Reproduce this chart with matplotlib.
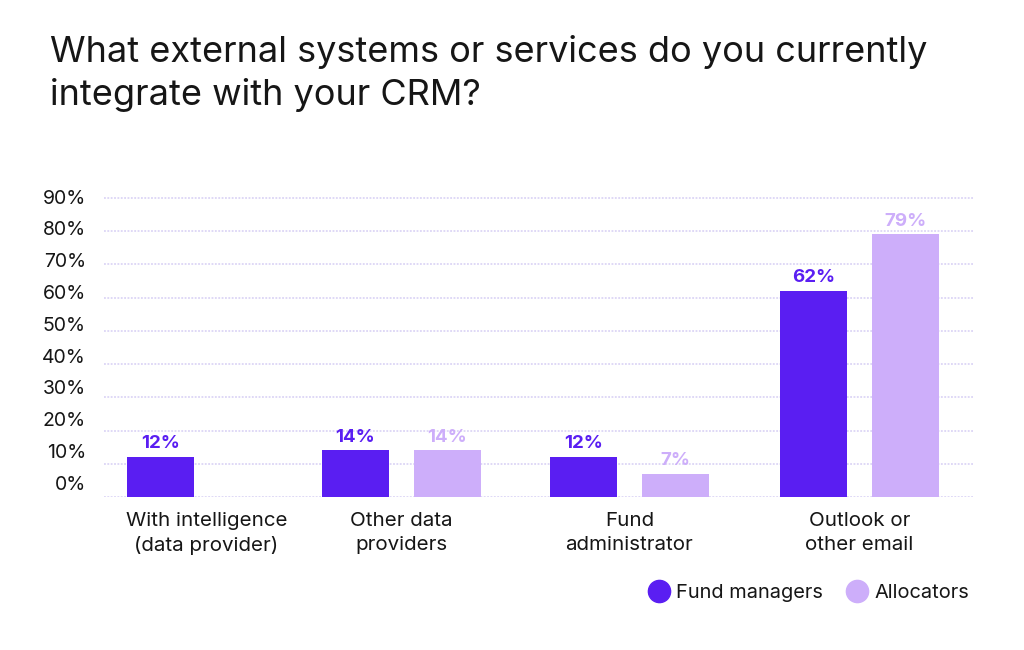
import matplotlib
matplotlib.use("Agg")
import matplotlib.pyplot as plt
from matplotlib.lines import Line2D
import numpy as np

# ---- data ----
categories = ["With intelligence\n(data provider)", "Other data\nproviders",
              "Fund\nadministrator", "Outlook or\nother email"]
series_names = ["Fund managers", "Allocators"]
fund_managers = [12, 14, 12, 62]
allocators = [None, 14, 7, 79]
y_ticks = [0, 10, 20, 30, 40, 50, 60, 70, 80, 90]
y_labels = ["0%", "10%", "20%", "30%", "40%", "50%", "60%", "70%", "80%", "90%"]
title = "What external systems or services do you currently\nintegrate with your CRM?"

# ---- style / layout ----
c_fm = "#5a1ef2"
c_al = "#cdaefa"
c_grid = "#d6cef4"
c_text = "#161616"
FONT = ["Inter", "DejaVu Sans"]
plt.rcParams["font.family"] = FONT

W, H, DPI = 1024, 650, 100
fig = plt.figure(figsize=(W / DPI, H / DPI), dpi=DPI)
ax_l, ax_r, ax_t, ax_b = 104, 973, 196.7, 497
ax = fig.add_axes([ax_l / W, 1 - ax_b / H, (ax_r - ax_l) / W, (ax_b - ax_t) / H])

# group centres in pixel units relative to axes left
group_x = np.array([102.5, 297, 525.5, 755.5])
bar_w = 67
off = 46

ax.set_xlim(0, ax_r - ax_l)
ax.set_ylim(0, 90)

for v in y_ticks:
    ax.axhline(v, color=c_grid, lw=1.1, ls=(0, (1.2, 1.0)), zorder=0)

fm_vals = np.array(fund_managers, dtype=float)
al_vals = np.array([np.nan if v is None else v for v in allocators], dtype=float)

ax.bar(group_x - off, fm_vals, width=bar_w, color=c_fm, zorder=2)
ax.bar(group_x + off, np.nan_to_num(al_vals), width=bar_w, color=c_al, zorder=2)

for x, v in zip(group_x - off, fm_vals):
    ax.text(x, v + 1.4, f"{int(v)}%", ha="center", va="bottom", color=c_fm,
            fontsize=13.5, fontweight="bold")
for x, v in zip(group_x + off, al_vals):
    if not np.isnan(v):
        ax.text(x, v + 1.4, f"{int(v)}%", ha="center", va="bottom", color=c_al,
                fontsize=13.5, fontweight="bold")

# y tick labels (reference places them slightly off the gridlines)
label_pos = [4.3 + 0.956 * v for v in y_ticks]
ax.set_yticks(label_pos)
ax.set_yticklabels(y_labels, fontsize=14, color=c_text)
ax.tick_params(axis="y", length=0, pad=13)

ax.set_xticks(group_x)
ax.set_xticklabels(categories, fontsize=14.8, color=c_text, linespacing=1.38)
ax.tick_params(axis="x", length=0, pad=11)

for s in ax.spines.values():
    s.set_visible(False)

fig.text(50 / W, 1 - 35 / H, title, fontsize=26, color=c_text, ha="left", va="top",
         linespacing=1.33)

handles = [Line2D([], [], marker="o", ls="", markersize=16, color=c_fm),
           Line2D([], [], marker="o", ls="", markersize=16, color=c_al)]
fig.legend(handles, series_names, loc="center right", bbox_to_anchor=(969 / W, 1 - 593 / H),
           ncol=2, frameon=False, fontsize=14.4, handletextpad=0.05, columnspacing=0.9,
           handlelength=1.6, labelcolor=c_text, borderaxespad=0, borderpad=0)

fig.savefig("out.png", dpi=DPI, facecolor="white")
